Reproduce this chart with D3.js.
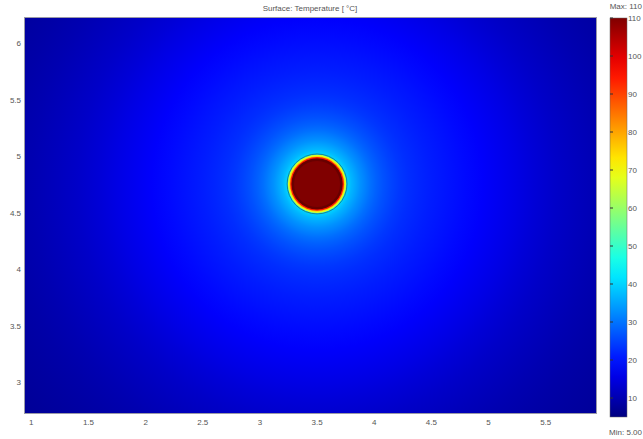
<!DOCTYPE html>
<html>
<head>
<meta charset="utf-8">
<script src="https://cdn.jsdelivr.net/npm/d3@7"></script>
<style>
  body { margin: 0; background: #fff; }
  text { font-family: "Liberation Sans", Arial, sans-serif; font-size: 8px; fill: #555; }
</style>
</head>
<body>
<div id="chart"></div>
<script>
// axis ticks
var xTicks = [1, 1.5, 2, 2.5, 3, 3.5, 4, 4.5, 5, 5.5];
var yTicks = [3, 3.5, 4, 4.5, 5, 5.5, 6];
var cbTicks = [10, 20, 30, 40, 50, 60, 70, 80, 90, 100, 110];

// heat source position (x, y) and temperature profile
var center = [3.5, 4.755];
var fieldRadius = [3.4, 3.1, 2.9, 2.7, 2.5, 2.3, 2.1, 1.9, 1.75, 1.6, 1.45, 1.3, 1.15, 1.0, 0.9, 0.8, 0.72, 0.65, 0.58, 0.52, 0.47, 0.42, 0.38, 0.34, 0.3, 0.26];
var fieldTemp   = [7, 7.8, 8.4, 9.2, 10.1, 11.2, 12.5, 14, 15.3, 16.6, 17.8, 19, 20, 21, 21.8, 22.8, 23.8, 25, 26.5, 28, 29.5, 31.5, 33, 35, 37, 40];
var sourceRadius = [0.262, 0.255, 0.243, 0.235, 0.224, 0.2];
var sourceTemp   = [42, 67, 76, 94, 110, 110];

var W = 643, H = 439;
var pL = 25, pR = 596, pT = 18, pB = 413;

var x = d3.scaleLinear().domain([0.945, 5.94]).range([pL, pR]);
var y = d3.scaleLinear().domain([2.73, 6.222]).range([pB, pT]);
var pxPerUnit = x(1) - x(0);

function clamp(v){ return Math.max(0, Math.min(1, v)); }
function jet(t){
  var v = clamp((t - 5) / 105);
  var r = clamp(1.5 - Math.abs(4*v - 3)),
      g = clamp(1.5 - Math.abs(4*v - 2)),
      b = clamp(1.5 - Math.abs(4*v - 1));
  return d3.rgb(r*255, g*255, b*255).toString();
}

var svg = d3.select("#chart").append("svg").attr("width", W).attr("height", H);
var defs = svg.append("defs");
defs.append("clipPath").attr("id", "plotclip")
  .append("rect").attr("x", pL).attr("y", pT).attr("width", pR-pL).attr("height", pB-pT);
defs.append("filter").attr("id", "soft2")
  .append("feGaussianBlur").attr("stdDeviation", 0.6);

// radial gradient built from the profile (offsets relative to the outermost radius)
var rMax = d3.max(fieldRadius);
var field = d3.range(fieldRadius.length).map(function(i){ return {r: fieldRadius[i], t: fieldTemp[i]}; })
  .sort(function(a, b){ return a.r - b.r; });
var rg = defs.append("radialGradient").attr("id", "fieldgrad")
  .attr("gradientUnits", "userSpaceOnUse")
  .attr("cx", x(center[0])).attr("cy", y(center[1])).attr("r", rMax * pxPerUnit);
rg.selectAll("stop").data(field).enter().append("stop")
  .attr("offset", function(d){ return d.r / rMax; })
  .attr("stop-color", function(d){ return jet(d.t); });

var plot = svg.append("g").attr("clip-path", "url(#plotclip)");
plot.append("rect").attr("x", pL).attr("y", pT).attr("width", pR-pL).attr("height", pB-pT)
  .attr("fill", jet(fieldTemp[0]));
plot.append("circle")
  .attr("cx", x(center[0])).attr("cy", y(center[1]))
  .attr("r", rMax * pxPerUnit)
  .attr("fill", "url(#fieldgrad)");

var src = d3.range(sourceRadius.length).map(function(i){ return {r: sourceRadius[i], t: sourceTemp[i]}; });
var sg = plot.append("g").attr("filter", "url(#soft2)");
sg.selectAll("circle").data(src).enter().append("circle")
  .attr("cx", x(center[0])).attr("cy", y(center[1]))
  .attr("r", function(d){ return d.r * pxPerUnit; })
  .attr("fill", function(d){ return jet(d.t); });
// darker band just inside the rim
sg.append("circle").attr("cx", x(center[0])).attr("cy", y(center[1]))
  .attr("r", 0.212 * pxPerUnit).attr("fill", "none")
  .attr("stroke", "rgba(0,0,0,0.18)").attr("stroke-width", 2.5);
// thin dark outline of the source
sg.append("circle").attr("cx", x(center[0])).attr("cy", y(center[1]))
  .attr("r", 0.262 * pxPerUnit).attr("fill", "none")
  .attr("stroke", "#1f6f78").attr("stroke-width", 0.8);

svg.append("rect").attr("x", pL-0.5).attr("y", pT-0.5).attr("width", pR-pL+1).attr("height", pB-pT+1)
  .attr("fill", "none").attr("stroke", "#9a9aa8").attr("stroke-width", 1);

// tick labels
svg.selectAll(".xl").data(xTicks).enter().append("text")
  .attr("x", function(d){ return x(d); }).attr("y", 425)
  .attr("text-anchor", "middle").text(function(d){ return d; });
svg.selectAll(".yl").data(yTicks).enter().append("text")
  .attr("x", 21).attr("y", function(d){ return y(d) + 3; })
  .attr("text-anchor", "end").text(function(d){ return d; });

svg.append("text").attr("x", 310).attr("y", 11).attr("text-anchor", "middle")
  .text("Surface: Temperature [ °C]");

// colorbar
var cbx = 610, cbw = 17;
var c = d3.scaleLinear().domain([5, 110]).range([417, 18]);
var grad = defs.append("linearGradient").attr("id", "jetgrad")
  .attr("x1", 0).attr("y1", 1).attr("x2", 0).attr("y2", 0);
grad.selectAll("stop").data(d3.range(0, 1.0001, 0.05)).enter().append("stop")
  .attr("offset", function(d){ return d; })
  .attr("stop-color", function(d){ return jet(5 + d*105); });
svg.append("rect").attr("x", cbx).attr("y", c(110)).attr("width", cbw).attr("height", c(5)-c(110))
  .attr("fill", "url(#jetgrad)").attr("stroke", "#666").attr("stroke-width", 0.5);
svg.selectAll(".cbt").data(cbTicks).enter().append("line")
  .attr("x1", cbx).attr("x2", cbx+3)
  .attr("y1", function(d){ return c(d); }).attr("y2", function(d){ return c(d); })
  .attr("stroke", "#333").attr("stroke-width", 1);
svg.selectAll(".cbl").data(cbTicks).enter().append("text")
  .attr("x", 628).attr("y", function(d){ return c(d) + 3; })
  .text(function(d){ return d; });
svg.append("text").attr("x", 642).attr("y", 9).attr("text-anchor", "end").text("Max: 110");
svg.append("text").attr("x", 642).attr("y", 435).attr("text-anchor", "end").text("Min: 5.00");
</script>
</body>
</html>
